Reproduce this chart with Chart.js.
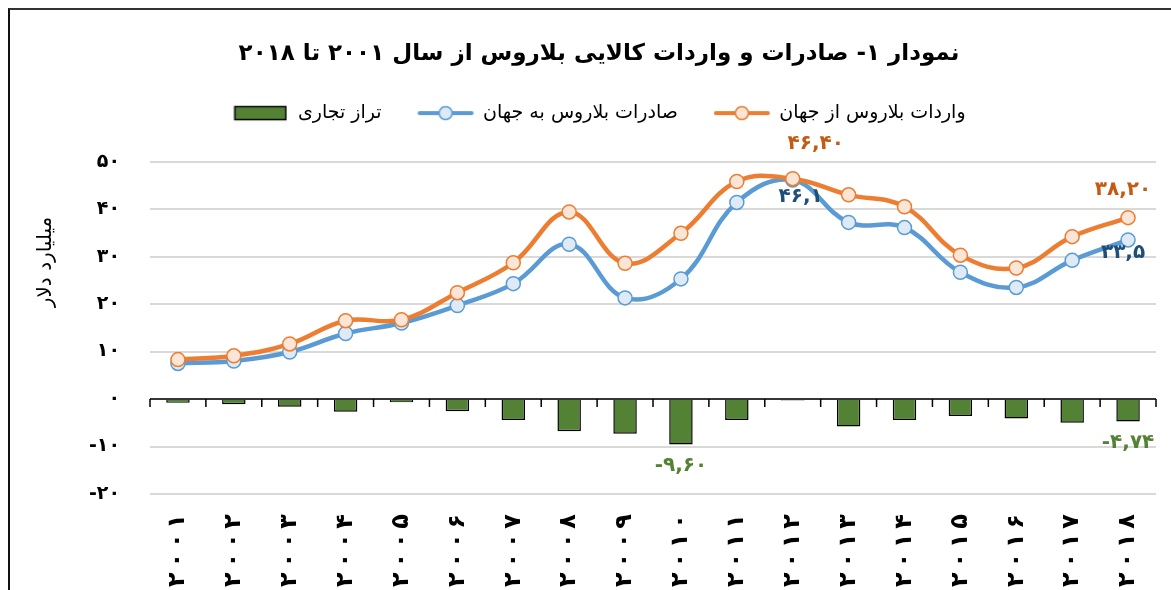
<!DOCTYPE html>
<html>
<head>
<meta charset="utf-8">
<script src="https://cdn.jsdelivr.net/npm/chart.js@4"></script>
<style>
html, body { margin: 0; padding: 0; background: #fff; overflow: hidden; }
#wrap { position: relative; width: 1171px; height: 590px; }
#wrap .frame { position: absolute; left: 8px; top: 8px; width: 1200px; height: 700px;
  border-left: 2px solid #111; border-top: 2px solid #333; pointer-events: none; }
</style>
</head>
<body>
<div id="wrap">
  <canvas id="js--chart" width="1171" height="590"></canvas>
  <div class="frame"></div>
</div>
<script>
// daadeh-ha (milliard dolar)
const years = ['2001','2002','2003','2004','2005','2006','2007','2008','2009',
               '2010','2011','2012','2013','2014','2015','2016','2017','2018'];
const imports = [8.3, 9.1, 11.6, 16.5, 16.7, 22.4, 28.7, 39.4, 28.6,
                 34.9, 45.8, 46.4, 43.0, 40.5, 30.3, 27.6, 34.2, 38.2];
const exportsW = [7.5, 8.0, 9.9, 13.8, 16.0, 19.7, 24.3, 32.6, 21.3,
                  25.3, 41.4, 46.1, 37.2, 36.1, 26.7, 23.5, 29.2, 33.5];
const balance = [-0.8, -1.1, -1.6, -2.7, -0.7, -2.6, -4.4, -6.8, -7.3,
                 -9.6, -4.4, -0.3, -5.8, -4.4, -3.6, -4.1, -5.0, -4.74];

const seriesNames = ['واردات بلاروس از جهان', 'صادرات بلاروس به جهان', 'تراز تجاری'];
const titleText = 'نمودار ۱- صادرات و واردات کالایی بلاروس از سال ۲۰۰۱ تا ۲۰۱۸';
const yTitle = 'میلیارد دلار';

// barchasb-haye meghdar ruye nemoodar
const importLabels = { 11: '46,40', 17: '38,20' };
const exportLabels = { 11: '46,1', 17: '33,5' };
const balanceLabels = { 9: '-9,60', 17: '-4,74' };

const FONT = '"DejaVu Sans", sans-serif';
const ORANGE = '#ED7D31', BLUE = '#5B9BD5', GREEN = '#548235';

function toFa(s) {
    return String(s).replace(/\d/g, d => '۰۱۲۳۴۵۶۷۸۹'[d]);
}

// legend markers
function lineMarker(color, fill) {
    const c = document.createElement('canvas');
    c.width = 58; c.height = 18;
    const g = c.getContext('2d');
    g.strokeStyle = color; g.lineWidth = 4; g.lineCap = 'round';
    g.beginPath(); g.moveTo(3, 9); g.lineTo(55, 9); g.stroke();
    g.beginPath(); g.arc(29, 9, 6.5, 0, Math.PI * 2);
    g.fillStyle = fill; g.fill(); g.lineWidth = 1.5; g.stroke();
    return c;
}
function boxMarker() {
    const c = document.createElement('canvas');
    c.width = 54; c.height = 18;
    const g = c.getContext('2d');
    g.fillStyle = GREEN; g.fillRect(1.5, 2.5, 51, 13);
    g.strokeStyle = '#000'; g.lineWidth = 1.5; g.strokeRect(1.5, 2.5, 51, 13);
    return c;
}
const markers = [lineMarker(ORANGE, '#FBE5D6'), lineMarker(BLUE, '#DEEBF7'), boxMarker()];

// khat-e sefr va tick-ha
const zeroAxis = {
    id: 'zeroAxis',
    afterDatasetsDraw(chart) {
        const ctx = chart.ctx, y = chart.scales.y;
        const y0 = y.getPixelForValue(0);
        ctx.save();
        ctx.strokeStyle = '#000';
        ctx.lineWidth = 1.5;
        ctx.beginPath();
        ctx.moveTo(chart.chartArea.left, y0);
        ctx.lineTo(chart.chartArea.right, y0);
        const w = (chart.chartArea.right - chart.chartArea.left) / years.length;
        for (let i = 0; i <= years.length; i++) {
            const px = chart.chartArea.left + i * w;
            ctx.moveTo(px, y0);
            ctx.lineTo(px, y0 + 8);
        }
        ctx.stroke();
        ctx.restore();
    }
};

// onvan-e mehvar-e amudi (kami bala-tar az vasat)
const yAxisTitle = {
    id: 'yAxisTitle',
    afterDraw(chart) {
        const ctx = chart.ctx;
        ctx.save();
        ctx.translate(46, 262);
        ctx.rotate(-Math.PI / 2);
        ctx.font = '20px ' + FONT;
        ctx.fillStyle = '#000';
        ctx.textAlign = 'center';
        ctx.textBaseline = 'middle';
        ctx.fillText(yTitle, 0, 0);
        ctx.restore();
    }
};

const valueLabels = {
    id: 'valueLabels',
    afterDraw(chart) {
        const ctx = chart.ctx, x = chart.scales.x, y = chart.scales.y;
        ctx.save();
        ctx.font = 'bold 20px ' + FONT;
        ctx.textAlign = 'center';
        ctx.textBaseline = 'middle';
        const put = (obj, arr, color, dx, dy) => {
            Object.keys(obj).forEach(k => {
                const i = +k;
                ctx.fillStyle = color;
                ctx.fillText(toFa(obj[k]), x.getPixelForValue(i) + dx(i), y.getPixelForValue(arr[i]) + dy(i));
            });
        };
        put(importLabels, imports, '#C55A11', i => i == 11 ? 23 : -5, i => i == 11 ? -35 : -28);
        put(exportLabels, exportsW, '#1F4E79', i => i == 11 ? 8 : -5, i => i == 11 ? 17 : 13);
        put(balanceLabels, balance, GREEN, i => 0, i => 21);
        ctx.restore();
    }
};

const data = {
    labels: years,
    datasets: [
        {
            type: 'line', label: seriesNames[0], data: imports, order: 0,
            borderColor: ORANGE, borderWidth: 4.5, tension: 0.4,
            pointRadius: 7, pointBorderWidth: 1.5,
            pointBackgroundColor: '#FBE5D6', pointBorderColor: ORANGE
        },
        {
            type: 'line', label: seriesNames[1], data: exportsW, order: 1,
            borderColor: BLUE, borderWidth: 4.5, tension: 0.4,
            pointRadius: 7, pointBorderWidth: 1.5,
            pointBackgroundColor: '#DEEBF7', pointBorderColor: BLUE
        },
        {
            type: 'bar', label: seriesNames[2], data: balance, order: 2,
            backgroundColor: GREEN, borderColor: '#000', borderWidth: 1.5,
            barPercentage: 0.42, categoryPercentage: 1
        }
    ]
};

const config = {
    data: data,
    options: {
        responsive: false,
        animation: false,
        layout: { padding: { left: 42, right: 15, top: 8, bottom: 0 } },
        plugins: {
            tooltip: { enabled: false },
            title: {
                display: true,
                text: '\u202B' + titleText + '\u202C',
                color: '#000',
                font: { family: FONT, size: 23, weight: 'bold' },
                padding: { top: 32, bottom: 0 }
            },
            // faqat baraye fasele zir-e legend
            subtitle: {
                display: true,
                text: ' ',
                weight: 500,
                font: { size: 10 },
                padding: { top: 17, bottom: 0 }
            },
            legend: {
                display: true,
                reverse: true,
                labels: {
                    color: '#000',
                    font: { family: FONT, size: 19 },
                    usePointStyle: true,
                    pointStyleWidth: 56,
                    padding: 36,
                    generateLabels(chart) {
                        const items = Chart.defaults.plugins.legend.labels.generateLabels(chart);
                        items.forEach(it => { it.pointStyle = markers[it.datasetIndex]; });
                        return items;
                    }
                }
            }
        },
        scales: {
            x: {
                grid: { display: false },
                border: { display: false },
                ticks: {
                    color: '#000',
                    font: { family: FONT, size: 24, weight: 'bold' },
                    minRotation: 90, maxRotation: 90,
                    padding: 12,
                    callback: (v, i) => toFa(years[i]).split('').join('\u2009')
                },
                afterFit: s => { s.height = 96; }
            },
            y: {
                min: -20, max: 50,
                border: { display: false },
                grid: { color: '#d9d9d9', lineWidth: 2, drawTicks: false },
                ticks: {
                    stepSize: 10,
                    color: '#000',
                    padding: 30,
                    font: { family: FONT, size: 19, weight: 'bold' },
                    callback: v => toFa(v)
                },
                afterFit: s => { s.width = 108; }
            }
        }
    },
    plugins: [zeroAxis, yAxisTitle, valueLabels]
};

new Chart(document.getElementById('js--chart'), config);
</script>
</body>
</html>
